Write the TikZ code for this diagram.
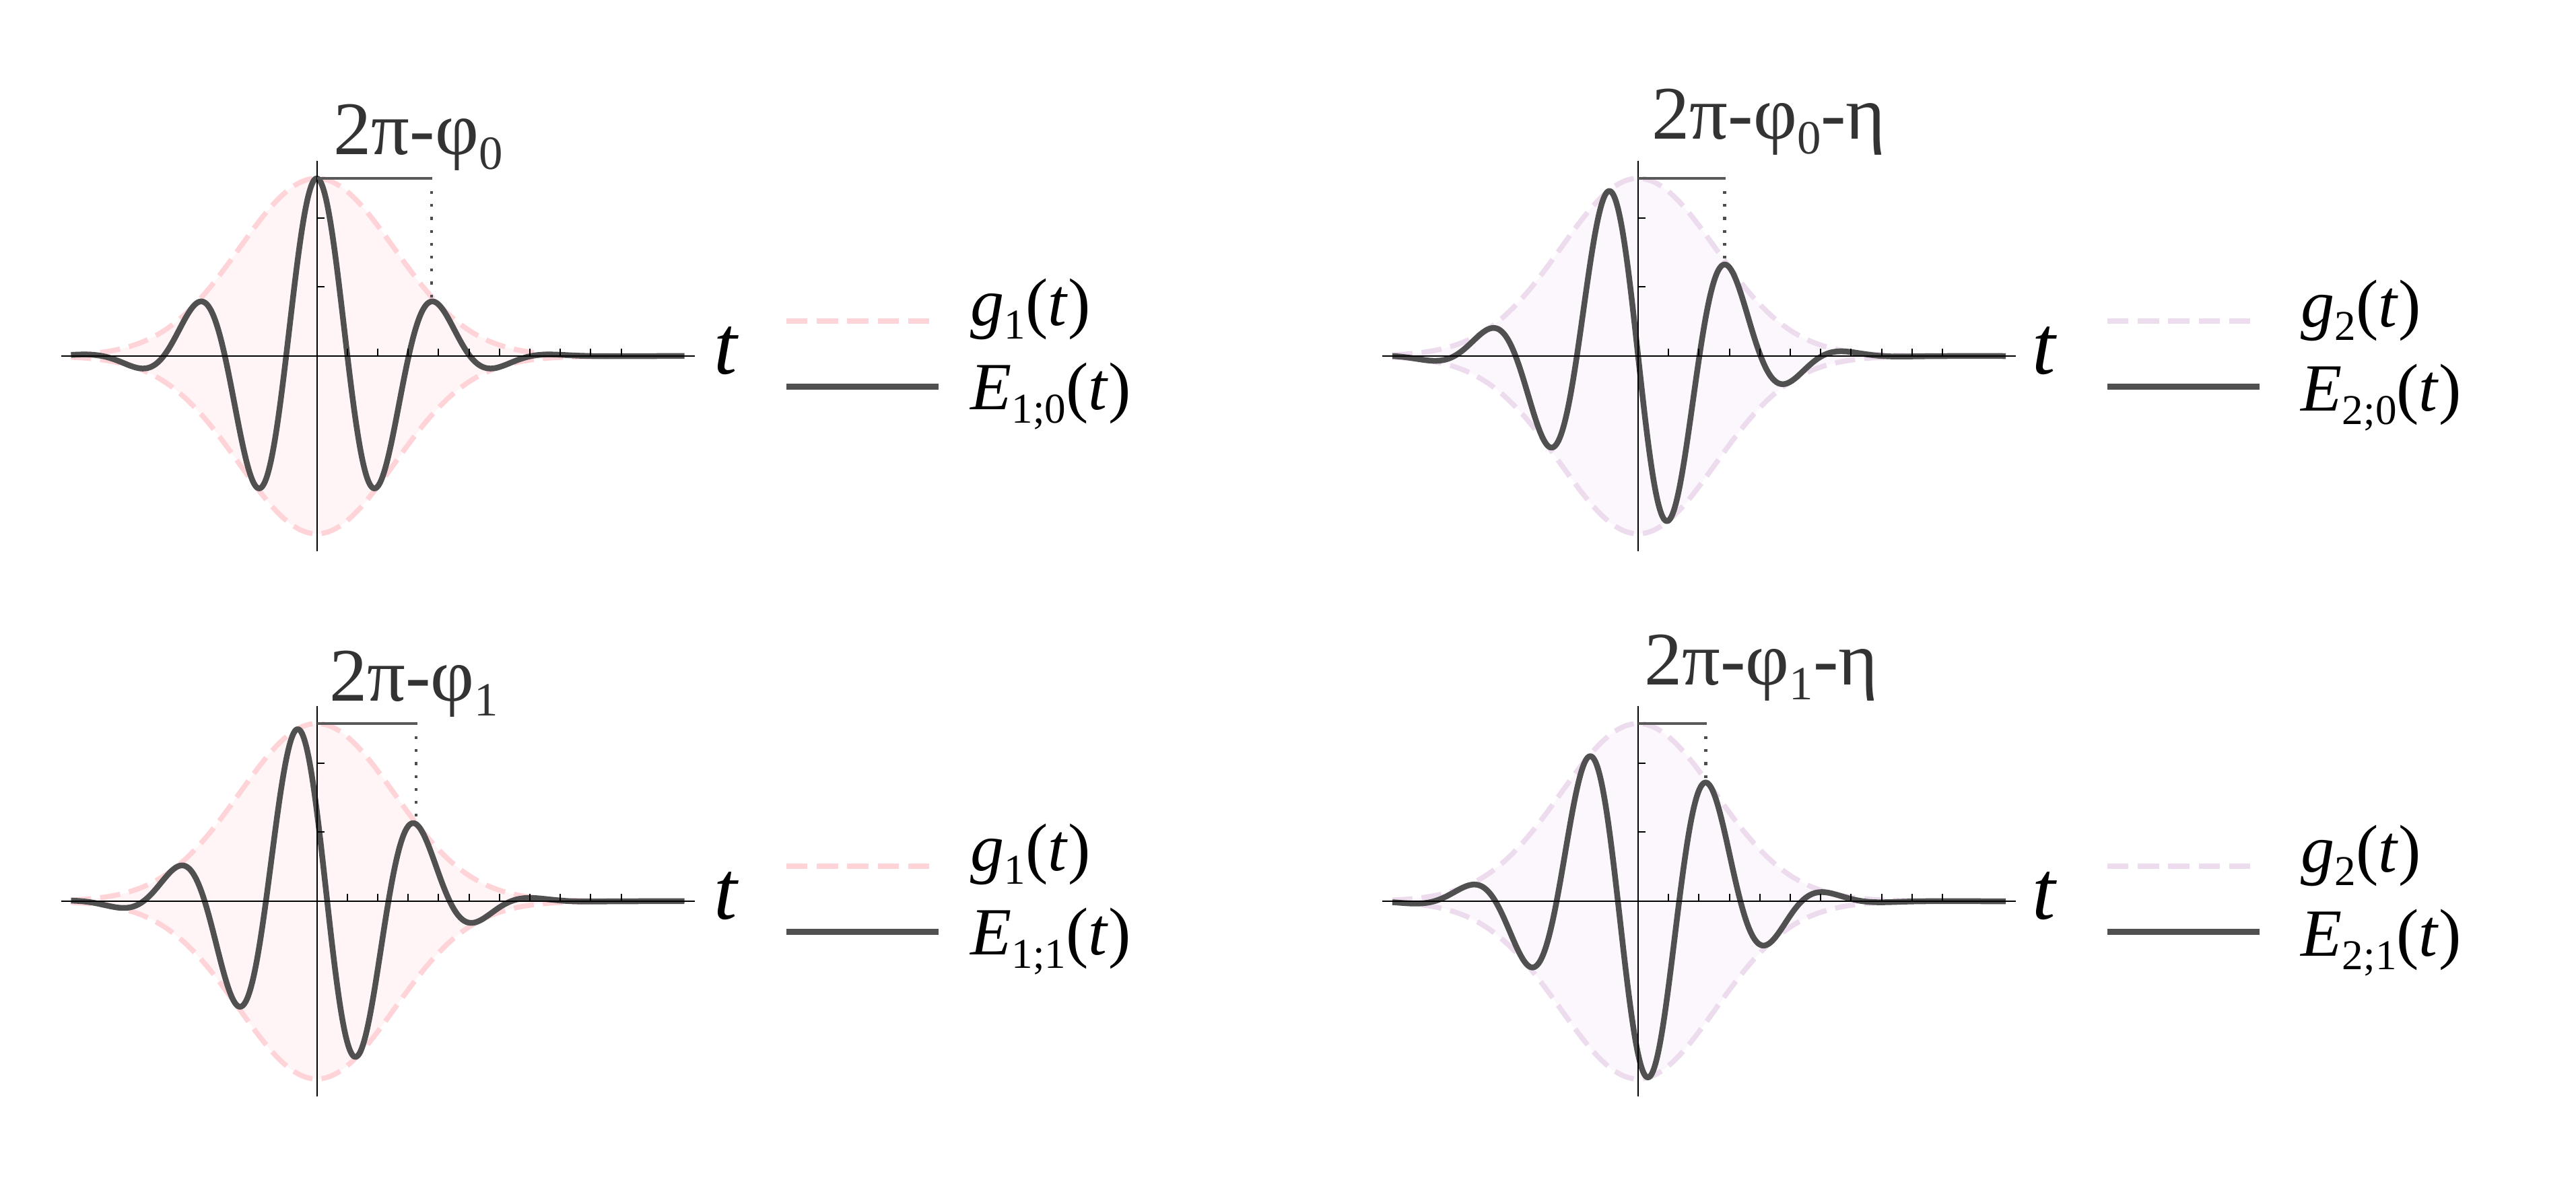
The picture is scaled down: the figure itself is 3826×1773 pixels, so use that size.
\documentclass[tikz,border=0pt]{standalone}
\usepackage{graphicx}
\usepackage{fontspec}
\setmainfont{Liberation Serif}
\definecolor{pinkline}{HTML}{FFD4D8}
\definecolor{pinkfill}{HTML}{FFF5F6}
\definecolor{lavline}{HTML}{EDDBEE}
\definecolor{lavfill}{HTML}{FCF7FC}
\definecolor{wavecol}{HTML}{505050}
\definecolor{markcol}{HTML}{595959}
\definecolor{dotcol}{HTML}{4D4D4D}
\definecolor{labelcol}{HTML}{333333}
\newcommand\lsb[1]{\raisebox{-0.2em}{\scalebox{0.63}{#1}}}
\tikzset{
  declare function={env(\t)=264*exp(max(-8,-0.5*(\t/115)*(\t/115)));
                    wave(\t,\ph)=env(\t)*cos((\t/182)*360+\ph);},
  axisline/.style={line width=0.2mm, black},
  wavestyle/.style={line width=0.85mm, wavecol, line join=round},
  envstyle/.style={line width=0.76mm, dash pattern=on 3.0mm off 1.35mm},
  bracketline/.style={line width=0.38mm, markcol},
  dotline/.style={line width=0.42mm, dotcol, dash pattern=on 0.42mm off 1.5mm},
  phaselabel/.style={anchor=base west, inner sep=0pt, text=labelcol, font=\fontsize{32}{32}\selectfont},
  tlabel/.style={anchor=base west, inner sep=0pt, font=\fontsize{35.3}{35.3}\selectfont\itshape},
  legtext/.style={anchor=base west, inner sep=0pt, font=\fontsize{28.5}{28.5}\selectfont},
  legdash/.style={line width=0.78mm, dash pattern=on 3.14mm off 1.38mm},
  legsolid/.style={line width=0.9mm, wavecol},
}
% #1 name, #2 origin x, #3 origin y, #4 phase (deg), #5 bracket end, #6 envelope colour, #7 fill colour
\newcommand\drawpanel[7]{%
\begin{scope}[shift={(#2,#3)}]
  \fill[#7] plot[domain=-365:546,samples=200] (\x,{-env(\x)}) -- plot[domain=546:-365,samples=200] (\x,{env(\x)}) -- cycle;
  \draw[envstyle,#6] plot[domain=-365:546,samples=200,smooth] (\x,{-env(\x)});
  \draw[envstyle,#6] plot[domain=-365:546,samples=200,smooth] (\x,{env(\x)});
  \draw[wavestyle] plot[domain=-365:546,samples=450,smooth] (\x,{-wave(\x,#4)});
  \coordinate (#1-xl) at (-380,0);
  \coordinate (#1-xr) at (561,0);
  \coordinate (#1-yt) at (0,-290);
  \coordinate (#1-yb) at (0,290);
  \draw[axisline] (#1-xl) -- (#1-xr);
  \draw[axisline] (#1-yt) -- (#1-yb);
  \foreach \k in {1,...,10} \draw[axisline] (\k*45.2,0) -- (\k*45.2,-10.7);
  \foreach \k in {1,2} \draw[axisline] (0,-\k*102.7) -- (11,-\k*102.7);
  \coordinate (#1-top) at (0,-264);
  \coordinate (#1-end) at (#5,-264);
  \coordinate (#1-dtop) at (#5-1.5,-245);
  \coordinate (#1-dbot) at (#5-1.5,{-wave(#5-1.5,#4)-4});
  \draw[bracketline] (#1-top) -- (#1-end);
  \draw[dotline] (#1-dtop) -- (#1-dbot);
\end{scope}}
\begin{document}
\begin{tikzpicture}[x=0.1mm,y=-0.1mm]
\useasboundingbox (0,0) rectangle (3826,1773);
% panels
\drawpanel{TL}{470.5}{529}{0}{171.7}{pinkline}{pinkfill}
\drawpanel{TR}{2433}{529}{90}{130}{lavline}{lavfill}
\drawpanel{BL}{470.5}{1339}{59.4}{149}{pinkline}{pinkfill}
\drawpanel{BR}{2433}{1339}{149.4}{102}{lavline}{lavfill}
% phase labels
\node[phaselabel] (labTL) at (495,229) {2π-φ\lsb{0}};
\node[phaselabel] (labTR) at (2453,206) {2π-φ\lsb{0}-η};
\node[phaselabel] (labBL) at (488.5,1041) {2π-φ\lsb{1}};
\node[phaselabel] (labBR) at (2441.5,1017) {2π-φ\lsb{1}-η};
% axis labels
\node[tlabel] (tTL) at (1060,555) {t};
\node[tlabel] (tTR) at (3018,555) {t};
\node[tlabel] (tBL) at (1060,1365) {t};
\node[tlabel] (tBR) at (3018,1365) {t};
% legends
\coordinate (lgTLa) at (1168,477);  \coordinate (lgTLb) at (1380.2,477);
\coordinate (lgTLc) at (1168,574);  \coordinate (lgTLd) at (1394,574);
\draw[legdash,pinkline] (lgTLa) -- (lgTLb);
\draw[legsolid] (lgTLc) -- (lgTLd);
\node[legtext] (gTL) at (1441,483) {\textit{g}\lsb{1}(\textit{t})};
\node[legtext] (eTL) at (1441,608) {\textit{E}\lsb{1;0}(\textit{t})};
\coordinate (lgTRa) at (3130,477);  \coordinate (lgTRb) at (3342.2,477);
\coordinate (lgTRc) at (3130,574);  \coordinate (lgTRd) at (3356,574);
\draw[legdash,lavline] (lgTRa) -- (lgTRb);
\draw[legsolid] (lgTRc) -- (lgTRd);
\node[legtext] (gTR) at (3417,485) {\textit{g}\lsb{2}(\textit{t})};
\node[legtext] (eTR) at (3417,610) {\textit{E}\lsb{2;0}(\textit{t})};
\coordinate (lgBLa) at (1168,1287);  \coordinate (lgBLb) at (1380.2,1287);
\coordinate (lgBLc) at (1168,1384);  \coordinate (lgBLd) at (1394,1384);
\draw[legdash,pinkline] (lgBLa) -- (lgBLb);
\draw[legsolid] (lgBLc) -- (lgBLd);
\node[legtext] (gBL) at (1441,1293) {\textit{g}\lsb{1}(\textit{t})};
\node[legtext] (eBL) at (1441,1418) {\textit{E}\lsb{1;1}(\textit{t})};
\coordinate (lgBRa) at (3130,1287);  \coordinate (lgBRb) at (3342.2,1287);
\coordinate (lgBRc) at (3130,1384);  \coordinate (lgBRd) at (3356,1384);
\draw[legdash,lavline] (lgBRa) -- (lgBRb);
\draw[legsolid] (lgBRc) -- (lgBRd);
\node[legtext] (gBR) at (3417,1295) {\textit{g}\lsb{2}(\textit{t})};
\node[legtext] (eBR) at (3417,1420) {\textit{E}\lsb{2;1}(\textit{t})};
\end{tikzpicture}
\end{document}
